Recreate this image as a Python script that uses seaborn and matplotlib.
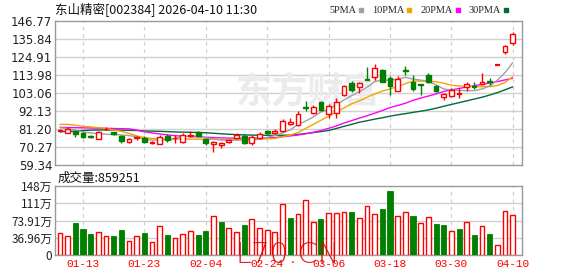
import numpy as np
import pandas as pd
import matplotlib
matplotlib.use("Agg")
import matplotlib.pyplot as plt
import seaborn as sns
from matplotlib.lines import Line2D

# ---------------- data ----------------
title = "东山精密[002384] 2026-04-10 11:30"
vol_title = "成交量:859251"

dates = ["01-08", "01-09", "01-12", "01-13", "01-14", "01-15", "01-16", "01-19", "01-20", "01-21",
         "01-22", "01-23", "01-26", "01-27", "01-28", "01-29", "01-30", "02-02", "02-03", "02-04",
         "02-05", "02-06", "02-09", "02-10", "02-11", "02-12", "02-13", "02-24", "02-25", "02-26",
         "02-27", "03-02", "03-03", "03-04", "03-05", "03-06", "03-09", "03-10", "03-11", "03-12",
         "03-13", "03-16", "03-17", "03-18", "03-19", "03-20", "03-23", "03-24", "03-25", "03-26",
         "03-27", "03-30", "03-31", "04-01", "04-02", "04-03", "04-07", "04-08", "04-09", "04-10"]

opens = [79.8, 79.0, 80.2, 78.6, 76.7, 74.9, 80.9, 79.1, 77.2, 73.5,
         75.8, 76.0, 72.6, 72.3, 77.2, 75.6, 73.5, 76.8, 79.5, 74.9,
         72.0, 71.5, 73.5, 75.5, 77.2, 72.5, 75.9, 80.0, 79.0, 80.0,
         84.0, 83.5, 94.6, 91.1, 97.8, 90.1, 90.7, 101.8, 108.9, 106.5,
         111.5, 113.0, 117.0, 112.0, 104.5, 116.8, 110.0, 108.5, 114.2, 107.3,
         100.4, 101.0, 102.5, 107.0, 107.0, 108.5, 110.3, 120.1, 128.1, 133.2]
highs = [81.5, 82.6, 80.5, 79.2, 77.6, 80.0, 82.2, 79.6, 77.5, 76.0,
         77.1, 77.0, 73.9, 77.3, 78.0, 77.3, 78.5, 79.9, 80.2, 75.5,
         74.2, 73.5, 74.8, 78.5, 78.0, 77.6, 79.3, 80.8, 81.4, 87.3,
         88.0, 92.2, 98.4, 95.9, 98.5, 96.5, 100.0, 108.2, 110.5, 109.5,
         119.0, 120.5, 117.5, 113.5, 113.5, 119.5, 114.0, 108.8, 115.0, 108.2,
         103.0, 106.0, 106.0, 110.0, 110.0, 115.4, 112.0, 120.1, 132.0, 139.9]
lows = [79.5, 78.8, 76.2, 75.5, 75.5, 74.9, 80.3, 77.6, 72.9, 73.0,
        74.5, 72.5, 72.2, 71.8, 73.5, 73.0, 73.0, 76.2, 76.7, 71.5,
        67.0, 69.5, 73.0, 75.0, 72.0, 71.5, 75.4, 77.8, 78.2, 79.5,
        83.5, 83.0, 92.0, 90.5, 92.0, 87.7, 87.7, 101.0, 103.5, 103.0,
        110.7, 111.0, 109.5, 101.8, 104.0, 114.0, 104.4, 101.8, 109.0, 103.8,
        98.8, 100.5, 100.0, 104.5, 105.5, 108.0, 107.8, 120.1, 126.5, 132.2]
closes = [80.8, 81.1, 78.2, 76.5, 76.4, 79.2, 81.2, 78.0, 74.1, 75.0,
          76.5, 73.2, 73.4, 76.5, 74.5, 76.0, 77.5, 77.8, 77.1, 72.9,
          73.5, 72.6, 74.3, 77.3, 72.5, 76.5, 78.0, 78.7, 79.9, 86.0,
          85.2, 90.5, 93.9, 94.8, 92.7, 95.2, 97.8, 107.5, 104.8, 109.0,
          111.2, 118.5, 110.0, 107.5, 111.5, 116.5, 105.5, 108.0, 109.9, 104.2,
          102.4, 104.9, 103.0, 108.5, 106.8, 110.0, 109.8, 120.1, 131.7, 138.9]

ma5 = [82.0, 81.5, 80.5, 79.5, 78.8, 78.4, 78.0, 77.8, 77.6, 77.2,
       76.5, 75.0, 74.5, 74.5, 74.6, 75.5, 76.5, 77.0, 76.8, 75.8,
       75.2, 74.5, 74.4, 74.4, 74.5, 74.5, 75.0, 76.2, 77.2, 78.8,
       80.6, 84.0, 86.0, 88.5, 91.5, 93.0, 96.0, 98.8, 101.5, 103.8,
       106.5, 110.0, 110.9, 110.9, 111.5, 112.6, 111.5, 110.9, 110.0, 108.0,
       105.5, 104.8, 104.6, 104.5, 104.5, 105.5, 107.3, 110.9, 115.5, 121.5]
ma10 = [84.0, 84.0, 83.5, 82.8, 82.5, 82.0, 81.5, 80.5, 79.8, 78.5,
        77.0, 76.0, 75.5, 75.3, 75.2, 75.1, 75.1, 75.0, 75.0, 75.0,
        74.9, 74.8, 74.8, 74.9, 75.0, 75.0, 75.1, 75.2, 75.5, 76.5,
        77.5, 79.0, 81.5, 84.0, 86.5, 89.0, 91.5, 94.0, 96.5, 98.3,
        100.5, 102.5, 104.2, 105.5, 107.0, 108.7, 110.3, 110.3, 110.1, 109.9,
        109.0, 107.8, 107.3, 107.0, 106.9, 106.9, 107.0, 107.6, 109.5, 113.0]
ma20 = [82.2, 82.1, 82.0, 81.9, 81.8, 81.7, 81.6, 81.5, 81.4, 81.3,
        80.5, 79.5, 78.8, 78.2, 77.6, 77.1, 76.9, 76.6, 76.4, 76.2,
        76.0, 75.8, 75.7, 75.6, 75.6, 75.6, 75.7, 75.8, 76.0, 76.5,
        77.0, 77.5, 78.3, 79.2, 80.3, 81.6, 83.0, 84.8, 86.3, 87.8,
        89.2, 90.8, 92.4, 94.2, 95.5, 96.8, 98.6, 100.0, 101.2, 102.5,
        104.0, 105.0, 105.8, 106.7, 107.5, 108.3, 109.1, 110.0, 111.0, 112.0]
ma30 = [79.6, 79.7, 79.8, 80.3, 80.5, 80.6, 80.6, 80.6, 80.5, 80.4,
        80.3, 80.0, 79.9, 79.8, 79.6, 79.4, 79.3, 79.2, 79.1, 78.9,
        78.6, 78.3, 78.0, 77.8, 77.6, 77.5, 77.4, 77.4, 77.4, 77.4,
        77.5, 77.9, 78.4, 79.0, 79.6, 80.3, 81.5, 82.8, 84.0, 85.3,
        86.2, 87.2, 88.0, 89.0, 89.8, 90.5, 91.3, 92.0, 92.8, 93.8,
        95.0, 96.1, 97.2, 98.3, 99.4, 100.5, 101.8, 103.3, 105.0, 106.8]

volumes = [46.5, 40.8, 69.3, 55.8, 45.0, 49.3, 40.8, 40.8, 53.6, 30.0,
           40.8, 47.9, 27.9, 62.2, 42.9, 35.7, 45.0, 50.8, 42.9, 51.5,
           83.7, 71.5, 57.2, 49.3, 64.4, 76.5, 57.2, 53.6, 49.3, 109.4,
           79.4, 87.9, 118.0, 70.8, 77.2, 90.1, 90.1, 92.2, 92.2, 79.4,
           105.1, 87.9, 98.7, 137.3, 83.7, 91.5, 83.7, 68.6, 80.8, 66.5,
           64.4, 50.8, 55.8, 70.1, 42.9, 61.5, 45.0, 20.7, 93.7, 85.93]  # 万

price_ticks = [59.34, 70.27, 81.20, 92.13, 103.06, 113.98, 124.91, 135.84, 146.77]
vol_ticks = [0, 36.955, 73.91, 110.865, 147.82]
vol_tick_labels = ["0", "36.96万", "73.91万", "111万", "148万"]
x_tick_dates = ["01-13", "01-23", "02-04", "02-24", "03-06", "03-18", "03-30", "04-10"]
ma_labels = ["5PMA", "10PMA", "20PMA", "30PMA"]

# ---------------- styling ----------------
RED = "#ff0000"
GREEN = "#008000"
MA_COLORS = ["#a0a0a0", "#f5a300", "#ff00ff", "#006b33"]
GRID = "#d0d0d0"
FRAME = "#999999"

sns.set_theme(style="white")
plt.rcParams['font.family'] = ['Noto Sans CJK SC', 'DejaVu Sans']

df = pd.DataFrame({"date": dates, "open": opens, "high": highs, "low": lows,
                   "close": closes, "ma5": ma5, "ma10": ma10, "ma20": ma20,
                   "ma30": ma30, "vol": volumes})
df["idx"] = np.arange(len(df))
df["up"] = df["close"] >= df["open"]
df["vol_up"] = df["close"] >= df["close"].shift(1).fillna(df["open"])

W, H = 578, 276
fig = plt.figure(figsize=(W / 100, H / 100), dpi=100)
fig.patch.set_facecolor("white")
ax = fig.add_axes([55 / W, 1 - 165 / H, 467 / W, 144 / H])
axv = fig.add_axes([55 / W, 1 - 255 / H, 467 / W, 69 / H])

xlim = (-0.65, len(df) + 0.2)
tick_pos = [dates.index(d) for d in x_tick_dates]

for a in (ax, axv):
    a.set_facecolor("white")
    a.set_xlim(*xlim)
    for s in a.spines.values():
        s.set_color(FRAME)
        s.set_linewidth(1.0)
    for p in tick_pos:
        a.axvline(p, color=GRID, lw=0.9, ls=(0, (3, 3)), zorder=0.5)
    a.tick_params(length=0)

# price grid
ax.set_ylim(price_ticks[0], price_ticks[-1])
ax.set_yticks(price_ticks)
ax.set_yticklabels([f"{v:.2f}" for v in price_ticks], fontsize=8.5,
                   color="#222222", family="DejaVu Sans")
for v in price_ticks[1:-1]:
    ax.axhline(v, color=GRID, lw=1.0, zorder=0.5)
ax.set_xticks([])
ax.tick_params(axis="y", pad=2)

# watermark
ax.text(308 / W, 1 - 92 / H, "东方财富", transform=fig.transFigure, ha="center",
        va="center", fontsize=26, fontweight="bold", color="#ebebee", zorder=0.6)

# MA lines (seaborn)
for col, c in zip(["ma30", "ma20", "ma10", "ma5"], MA_COLORS[::-1]):
    sns.lineplot(data=df, x="idx", y=col, ax=ax, color=c, lw=1.0, zorder=2,
                 legend=False)
ax.set_xlabel("")
ax.set_ylabel("")

# candles
body_w = 0.62
for _, r in df.iterrows():
    c = RED if r["up"] else GREEN
    ax.vlines(r["idx"], r["low"], r["high"], color=c, lw=1.0, zorder=3)
    h = r["close"] - r["open"]
    if abs(h) < 0.25:
        ax.hlines(r["open"], r["idx"] - body_w / 2, r["idx"] + body_w / 2,
                  color=c, lw=1.6, zorder=4)
    else:
        ax.bar(r["idx"], h, bottom=r["open"], width=body_w,
               facecolor="white" if r["up"] else GREEN, edgecolor=c,
               linewidth=1.0, zorder=4)

# legend
handles = [Line2D([], [], ls="none", marker="s", markersize=3.5, color=c) for c in MA_COLORS]
leg = ax.legend(handles, ma_labels, ncol=4, markerfirst=False, frameon=False,
                loc="lower right", bbox_to_anchor=(0.985, 1.0), borderaxespad=0.15,
                handlelength=0.7, handletextpad=0.15, columnspacing=0.7,
                prop={"family": "Liberation Serif", "size": 7.4})

fig.text(55 / W, 1 - 10 / H, title, ha="left", va="center", fontsize=9, color="#111111")

# volume
axv.set_ylim(0, vol_ticks[-1])
for v in vol_ticks[1:-1]:
    axv.axhline(v, color=GRID, lw=1.0, zorder=0.5)
for _, r in df.iterrows():
    if r["vol_up"]:
        axv.bar(r["idx"], r["vol"], width=0.62, facecolor="white", edgecolor=RED,
                linewidth=1.0, zorder=3)
    else:
        axv.bar(r["idx"], r["vol"], width=0.66, facecolor=GREEN, edgecolor=GREEN,
                linewidth=0.6, zorder=3)
axv.set_yticks(vol_ticks)
axv.set_yticklabels(vol_tick_labels, fontsize=8.5, color="#222222")
axv.set_xticks(tick_pos)
axv.set_xticklabels(x_tick_dates, fontsize=8, color=RED, family="Liberation Mono")
axv.tick_params(axis="y", pad=2)
axv.tick_params(axis="x", pad=3)
axv.set_xlabel("")
axv.set_ylabel("")

fig.text(58 / W, 1 - 178 / H, vol_title, ha="left", va="center", fontsize=9, color="#111111")

# bottom watermark (overlaps the date labels as in the original)
fig.text(288 / W, 1 - 255 / H, "L70.CN", ha="center", va="center", fontsize=21,
         color="#dd0000", alpha=0.85, family="DejaVu Sans", fontweight="light", zorder=10)

fig.savefig("out.png", dpi=100)
